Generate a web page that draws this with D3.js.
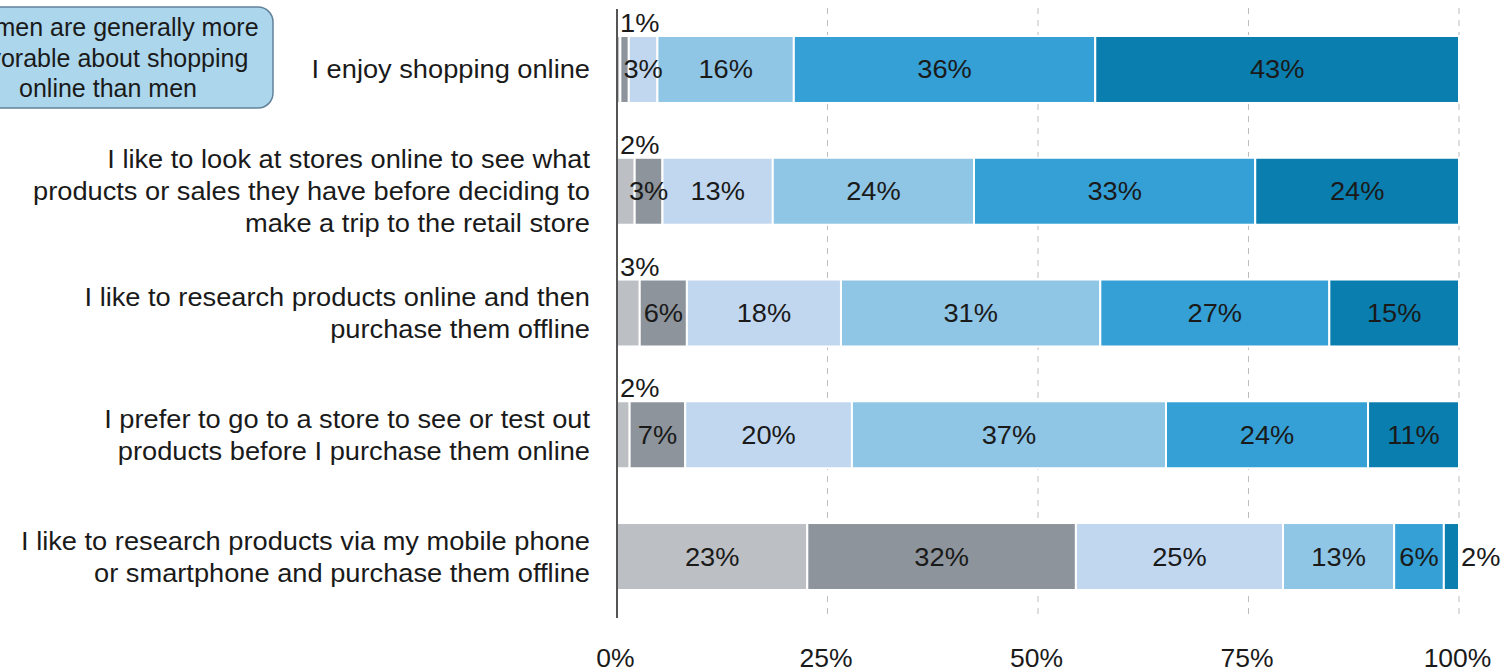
<!DOCTYPE html>
<html>
<head>
<meta charset="utf-8">
<script src="https://cdn.jsdelivr.net/npm/d3@7"></script>
<style>
  body { margin: 0; background: #fff; }
  svg { display: block; }
  text { font-family: "Liberation Sans", Arial, sans-serif; fill: #1a1a1a; }
</style>
</head>
<body>
<div id="chart"></div>
<script>
// categories (one line per label row)
var categories = [
  ["I enjoy shopping online"],
  ["I like to look at stores online to see what", "products or sales they have before deciding to", "make a trip to the retail store"],
  ["I like to research products online and then", "purchase them offline"],
  ["I prefer to go to a store to see or test out", "products before I purchase them online"],
  ["I like to research products via my mobile phone", "or smartphone and purchase them offline"]
];

// series values, segments left to right (percent)
var seg1 = [0.4, 2.1, 2.7, 1.5, 22.6];
var seg2 = [1.0, 3.3, 5.6, 6.6, 31.9];
var seg3 = [3.4, 13.1, 18.3, 19.8, 24.6];
var seg4 = [16.2, 23.9, 30.8, 37.3, 13.2];
var seg5 = [35.8, 33.4, 27.2, 24.0, 5.9];
var seg6 = [43.2, 24.2, 15.4, 10.8, 1.8];

var colors = ["#bcc0c4", "#8d949b", "#c1d7f0", "#8fc5e5", "#34a0d5", "#0a7eae"];
var tickValues = [0, 25, 50, 75, 100];
var note = ["Women are generally more", "favorable about shopping", "online than men"];

var W = 1507, H = 672;
var sx = 1.09; // text in the original is a bit wide

var svg = d3.select("#chart").append("svg")
    .attr("width", W)
    .attr("height", H);

function place(px, py) {
  return "translate(" + px + "," + py + ") scale(" + sx + ",1)";
}

var x = d3.scaleLinear().domain([0, 100]).range([617, 1459]);
var y = d3.scaleBand()
    .domain(d3.range(categories.length))
    .range([8.6, 617.4])
    .paddingInner(0.45)
    .paddingOuter(0.225);

// gridlines
svg.append("g").selectAll("line")
    .data(tickValues.slice(1))
    .enter().append("line")
    .attr("x1", function(d) { return x(d); })
    .attr("x2", function(d) { return x(d); })
    .attr("y1", 8)
    .attr("y2", 618)
    .attr("stroke", "#bdbdbd")
    .attr("stroke-width", 1)
    .attr("stroke-dasharray", "6,6");

// stack the series
var series = [seg1, seg2, seg3, seg4, seg5, seg6];
var rows = categories.map(function(c, i) {
  var acc = 0;
  return series.map(function(s, k) {
    var d = {row: i, k: k, v: s[i], x0: acc, x1: acc + s[i]};
    acc += s[i];
    return d;
  });
});
var segs = [].concat.apply([], rows);

svg.append("g").selectAll("rect")
    .data(segs)
    .enter().append("rect")
    .attr("x", function(d) { return x(d.x0); })
    .attr("width", function(d) { return x(d.x1) - x(d.x0); })
    .attr("y", function(d) { return y(d.row); })
    .attr("height", y.bandwidth())
    .attr("fill", function(d) { return colors[d.k]; })
    .attr("stroke", "#fff")
    .attr("stroke-width", 2);

// value labels
function label(d) { return Math.round(d.v) + "%"; }
var small = function(d) { return (x(d.x1) - x(d.x0)) < 25; };

svg.append("g").selectAll("text")
    .data(segs.filter(function(d) { return Math.round(d.v) > 0; }))
    .enter().append("text")
    .attr("font-size", 25)
    .attr("text-anchor", function(d) {
      return small(d) ? "start" : "middle";
    })
    .attr("transform", function(d) {
      var px, py;
      if (!small(d)) {
        px = (x(d.x0) + x(d.x1)) / 2;
        py = y(d.row) + y.bandwidth() / 2 + 9;
      } else if (d.k == 5) {
        px = x(d.x1) + 2;
        py = y(d.row) + y.bandwidth() / 2 + 9;
      } else {
        px = x(0) + 3;
        py = y(d.row) - 4;
      }
      return place(px, py);
    })
    .text(label);

// y axis line
svg.append("line")
    .attr("x1", x(0)).attr("x2", x(0))
    .attr("y1", 9).attr("y2", 618)
    .attr("stroke", "#555")
    .attr("stroke-width", 2);

// category labels
var cat = svg.append("g").selectAll("text")
    .data(categories)
    .enter().append("text")
    .attr("font-size", 25)
    .attr("text-anchor", "end")
    .attr("transform", function(d, i) {
      return place(590, y(i) + y.bandwidth() / 2 + 9 - (d.length - 1) * 16);
    });
cat.selectAll("tspan")
    .data(function(d) { return d; })
    .enter().append("tspan")
    .attr("x", 0)
    .attr("dy", function(d, i) { return i == 0 ? 0 : 32; })
    .text(function(d) { return d; });

// x axis
var xAxis = svg.append("g")
    .attr("transform", "translate(0,618)")
    .call(d3.axisBottom(x).tickValues(tickValues).tickSize(0)
      .tickFormat(function(d) { return d + "%"; }));
xAxis.select(".domain").remove();
xAxis.selectAll("text")
    .attr("font-size", 25)
    .attr("font-family", "Liberation Sans, Arial, sans-serif")
    .attr("fill", "#1a1a1a")
    .attr("y", 0)
    .attr("dy", 0)
    .attr("transform", "translate(-2,49) scale(1.06,1)");

// callout box (runs off the left edge, as in the original)
svg.append("rect")
    .attr("x", -30)
    .attr("y", 7)
    .attr("width", 303)
    .attr("height", 101)
    .attr("rx", 15)
    .attr("fill", "#acd6ec")
    .attr("stroke", "#62829a")
    .attr("stroke-width", 1.5);

svg.append("g").selectAll("text")
    .data(note)
    .enter().append("text")
    .attr("font-size", 25)
    .attr("text-anchor", "middle")
    .attr("x", 108)
    .attr("y", function(d, i) { return 36 + i * 30.5; })
    .text(function(d) { return d; });
</script>
</body>
</html>
